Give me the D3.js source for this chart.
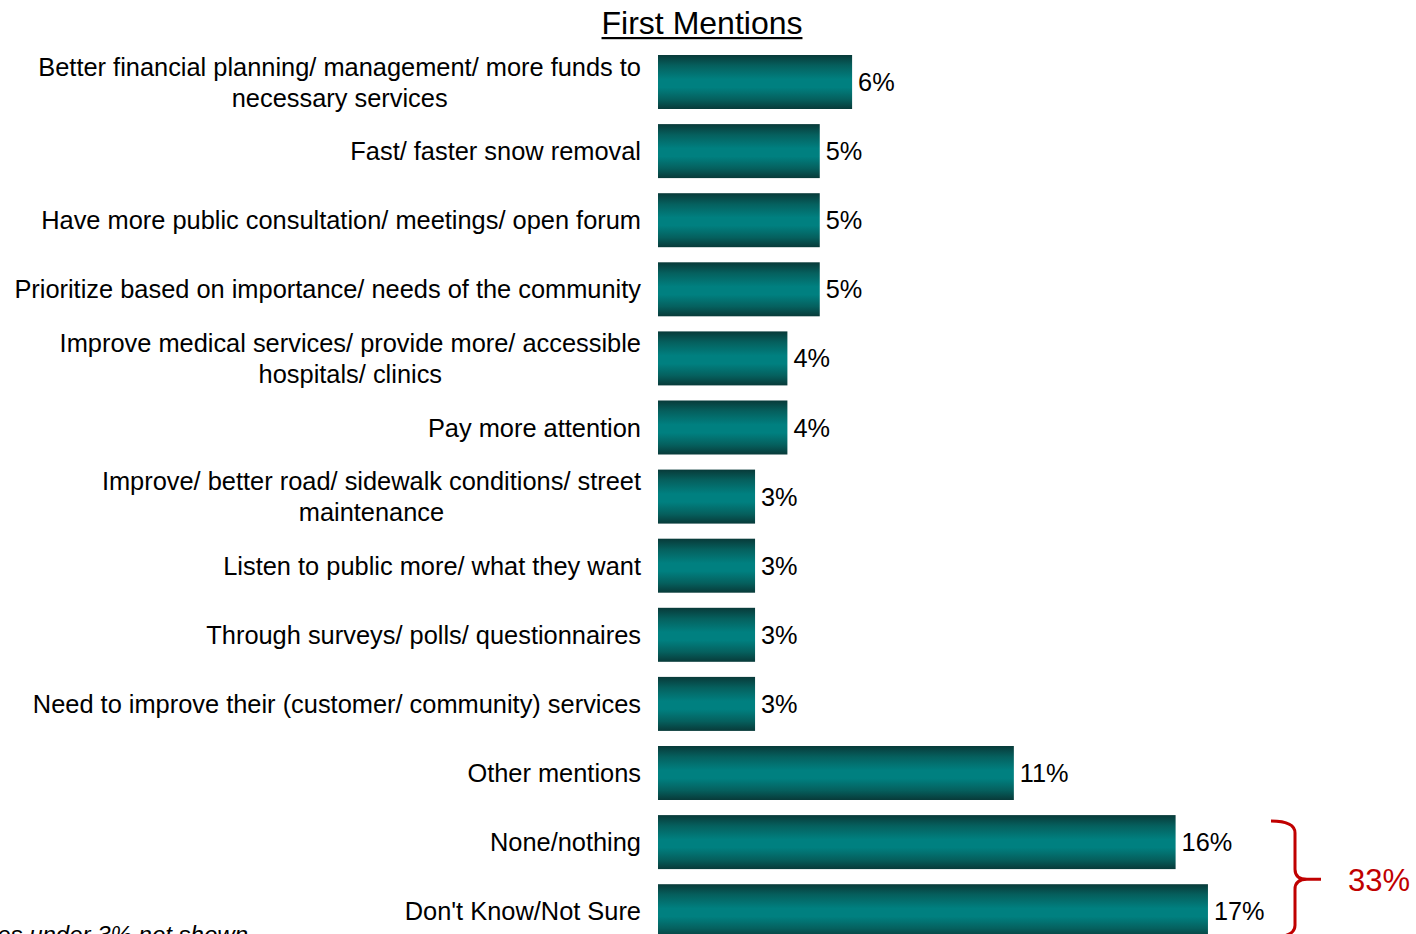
<!DOCTYPE html>
<html>
<head>
<meta charset="utf-8">
<script src="https://cdn.jsdelivr.net/npm/d3@7"></script>
<style>
  html, body { margin: 0; padding: 0; background: #fff; }
  svg { display: block; font-family: "Liberation Sans", Arial, sans-serif; }
</style>
</head>
<body>
<svg id="chart" width="1416" height="934"></svg>
<script>
// Category labels (line breaks marked with "\n")
const categories = [
  "Better financial planning/ management/ more funds to\nnecessary services",
  "Fast/ faster snow removal",
  "Have more public consultation/ meetings/ open forum",
  "Prioritize based on importance/ needs of the community",
  "Improve medical services/ provide more/ accessible\nhospitals/ clinics",
  "Pay more attention",
  "Improve/ better road/ sidewalk conditions/ street\nmaintenance",
  "Listen to public more/ what they want",
  "Through surveys/ polls/ questionnaires",
  "Need to improve their (customer/ community) services",
  "Other mentions",
  "None/nothing",
  "Don't Know/Not Sure"
];
// Percent of first mentions
const values = [6, 5, 5, 5, 4, 4, 3, 3, 3, 3, 11, 16, 17];
// Combined total for the last two categories
const bracketCategories = ["None/nothing", "Don't Know/Not Sure"];
const bracketTotal = 33;

const title = "First Mentions";
const footnote = "Responses under 3% not shown";

const svg = d3.select("#chart");
const defs = svg.append("defs");
const grad = defs.append("linearGradient")
  .attr("id", "barGrad").attr("x1", 0).attr("y1", 0).attr("x2", 0).attr("y2", 1);
[[0, "#083a39"], [0.2, "#05605e"], [0.45, "#008080"], [0.6, "#008080"], [0.82, "#05605e"], [1, "#083a39"]]
  .forEach(([o, c]) => grad.append("stop").attr("offset", o).attr("stop-color", c));

const x = d3.scaleLinear().domain([0, 17]).range([658, 658 + 17 * 32.35]);
const y = d3.scaleBand().domain(categories).range([55, 938.2]).paddingInner(0.2185).paddingOuter(0);

// Title
const titleText = svg.append("text")
  .attr("x", 702).attr("y", 34)
  .attr("text-anchor", "middle")
  .attr("font-size", 32)
  .attr("fill", "#000")
  .text(title);
const tw = titleText.node().getComputedTextLength();
svg.append("rect").attr("x", 702 - tw / 2).attr("y", 37).attr("width", tw).attr("height", 2.2).attr("fill", "#000");

// Bars
svg.append("g").selectAll("rect")
  .data(categories)
  .join("rect")
  .attr("x", x(0))
  .attr("y", d => y(d))
  .attr("width", (d, i) => x(values[i]) - x(0))
  .attr("height", y.bandwidth())
  .attr("fill", "url(#barGrad)");

// Value labels
svg.append("g").selectAll("text")
  .data(categories)
  .join("text")
  .attr("x", (d, i) => x(values[i]) + 6)
  .attr("y", d => y(d) + y.bandwidth() / 2 + 9)
  .attr("font-size", 25.3)
  .attr("fill", "#000")
  .text((d, i) => values[i] + "%");

// Category labels: right-aligned blocks, lines centred within the block
const labelRight = 641;
const lineH = 31;
const lg = svg.append("g");
categories.forEach(c => {
  const lines = c.split("\n");
  const cy = y(c) + y.bandwidth() / 2;
  const nodes = lines.map((ln, k) => lg.append("text")
    .attr("font-size", 25.4)
    .attr("fill", "#000")
    .attr("y", cy + (k - (lines.length - 1) / 2) * lineH + 9)
    .text(ln));
  const maxW = d3.max(nodes, n => n.node().getComputedTextLength());
  nodes.forEach(n => n.attr("text-anchor", "middle").attr("x", labelRight - maxW / 2));
});

// Bracket grouping the last two categories
const bTop = y(bracketCategories[0]) + 6;
const bBot = y(bracketCategories[1]) + y.bandwidth() - 1;
const bMid = (bTop + bBot) / 2;
const bx = 1295, bl = 1271, tip = 1321;
svg.append("path")
  .attr("d", `M${bl},${bTop} Q${bx},${bTop} ${bx},${bTop + 12} L${bx},${bMid - 10} Q${bx},${bMid} ${bx + 12},${bMid} L${tip},${bMid}` +
             ` M${bx + 12},${bMid} Q${bx},${bMid} ${bx},${bMid + 10} L${bx},${bBot - 12} Q${bx},${bBot} ${bl},${bBot}`)
  .attr("fill", "none")
  .attr("stroke", "#c00000")
  .attr("stroke-width", 3);
svg.append("text")
  .attr("x", 1348).attr("y", bMid + 12)
  .attr("font-size", 31)
  .attr("fill", "#c00000")
  .text(bracketTotal + "%");

// Footnote
svg.append("text")
  .attr("x", 248).attr("y", 943)
  .attr("text-anchor", "end")
  .attr("font-size", 24)
  .attr("font-style", "italic")
  .attr("fill", "#000")
  .text(footnote);
</script>
</body>
</html>
